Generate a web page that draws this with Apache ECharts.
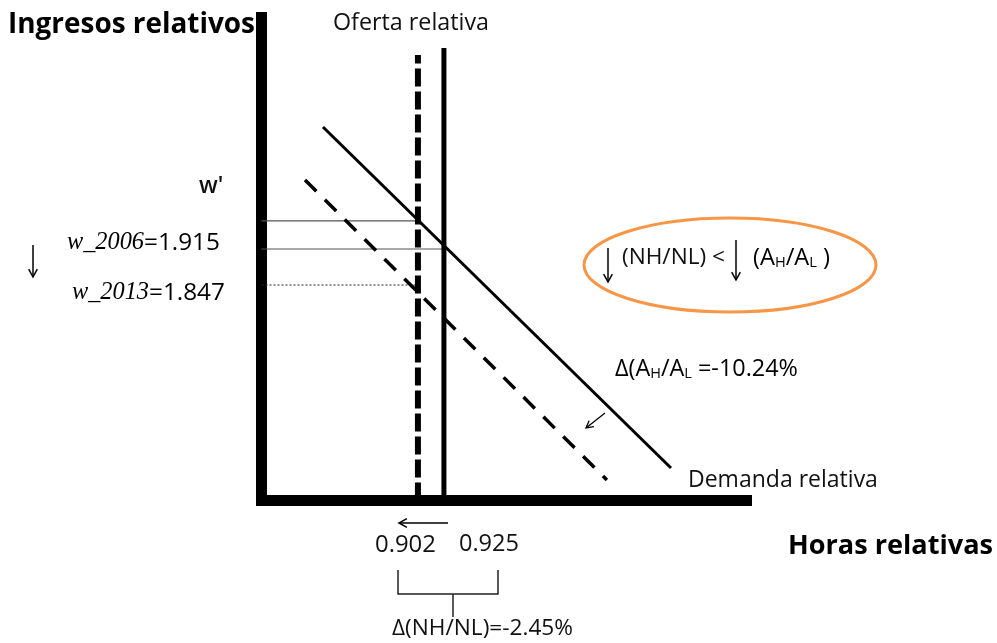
<!DOCTYPE html>
<html>
<head>
<meta charset="utf-8">
<script src="https://cdn.jsdelivr.net/npm/echarts@6/dist/echarts.min.js"></script>
<style>
html,body{margin:0;padding:0;background:#fff;}
#chart{width:997px;height:643px;}
</style>
</head>
<body>
<div id="chart"></div>
<script>
// ---- data ----
const horasRelativas = [0.902, 0.925];          // 2013, 2006 relative hours (supply)
const ingresosRelativos = [1.847, 1.915];       // w_2013, w_2006
const wPrime = [1.968];                         // w' level (unlabelled, estimated)
const ofertaTope = [2.2815, 2.2947];            // top ends of the supply lines (2013, 2006)
const demanda2006 = [[0.818, 2.1455], [1.1259, 1.5013]];
const demanda2013 = [[0.8021, 2.0453], [1.0692, 1.4787]];
const xRange = [0.7636, 1.1927];
const yRange = [1.43995, 2.3523];

const FONT = 'Open Sans';
const chart = echarts.init(document.getElementById('chart'), null, {renderer: 'canvas'});

const mctx = document.createElement('canvas').getContext('2d');
function measure(text, weight, style, family, size) {
  mctx.font = (style || 'normal') + ' ' + (weight || 'normal') + ' ' + size + 'px "' + family + '"';
  return mctx.measureText(text).width;
}
function fitSize(text, weight, family, width) {
  return 100 * width / measure(text, weight, 'normal', family, 100);
}

function line(data, style, z) {
  return {type: 'line', data: data, symbol: 'none', silent: true, animation: false,
          z: z || 2, lineStyle: Object.assign({cap: 'butt'}, style)};
}

function arrow(x1, y1, x2, y2, w, head) {
  const a = Math.atan2(y2 - y1, x2 - x1);
  const h = head || 9, sp = 0.5;
  const p1 = [x2 - h * Math.cos(a - sp), y2 - h * Math.sin(a - sp)];
  const p2 = [x2 - h * Math.cos(a + sp), y2 - h * Math.sin(a + sp)];
  return [
    {type: 'polyline', z: 100, shape: {points: [[x1, y1], [x2, y2]]}, style: {stroke: '#000', lineWidth: w, fill: null}},
    {type: 'polyline', z: 100, shape: {points: [p1, [x2, y2], p2]}, style: {stroke: '#000', lineWidth: w, fill: null}}
  ];
}

// text fitted to the width it occupies in the picture
function fitTxt(text, x, y, width, weight, color) {
  const s = fitSize(text, weight || 'normal', FONT, width);
  return {type: 'text', z: 100, style: {
    text: text, x: x, y: y, font: (weight || 'normal') + ' ' + s.toFixed(2) + 'px "' + FONT + '"',
    fill: color || '#111', textAlign: 'left', textVerticalAlign: 'middle'}};
}

// rich text with subscripts (H, L) fitted to a width
function subTxt(parts, x, y, width) {
  const base = 20, subRatio = 0.62;
  let w = 0;
  parts.forEach(p => { w += measure(p[0], 'normal', 'normal', FONT, p[1] ? base * subRatio : base); });
  const k = width / w;
  const n = base * k, s = base * subRatio * k;
  const rich = {
    n: {fontFamily: FONT, fontSize: n, color: '#111'},
    s: {fontFamily: FONT, fontSize: s, color: '#111', verticalAlign: 'bottom', padding: [n * 0.38, 0, 0, 0]}
  };
  const text = parts.map(p => '{' + (p[1] ? 's' : 'n') + '|' + p[0] + '}').join('');
  return {type: 'text', z: 100, style: {x: x, y: y, textVerticalAlign: 'middle', text: text, rich: rich}};
}

function wageTxt(a, b, x, y, width) {
  const fa = 'Liberation Serif';
  const wa = measure(a, 'normal', 'italic', fa, 20), wb = measure(b, 'normal', 'normal', FONT, 20);
  const k = width / (wa + wb);
  return {type: 'text', z: 100, style: {x: x, y: y, textVerticalAlign: 'middle',
    text: '{a|' + a + '}{b|' + b + '}',
    rich: {a: {fontFamily: fa, fontStyle: 'italic', fontSize: 20 * k, color: '#111'},
           b: {fontFamily: FONT, fontSize: 20 * k, color: '#111'}}}};
}

const graphics = [].concat(
  [
    fitTxt('Ingresos relativos', 8, 25, 247, 'bold', '#000'),
    fitTxt('Oferta relativa', 333, 23, 156),
    {type: 'text', z: 100, style: {text: "w'", x: 199, y: 186, font: '600 23px "' + FONT + '"',
      fill: '#111', textAlign: 'left', textVerticalAlign: 'middle'}},
    wageTxt('w_2006', '=1.915', 67, 243, 153),
    wageTxt('w_2013', '=1.847', 72, 293, 153),
    {type: 'ellipse', z: 100, shape: {cx: 730, cy: 265, rx: 146, ry: 47},
      style: {fill: null, stroke: '#F79646', lineWidth: 3}},
    fitTxt('(NH/NL) <', 622, 258, 103),
    subTxt([['(A', 0], ['H', 1], ['/A', 0], ['L', 1], [' )', 0]], 753, 258, 77),
    subTxt([['Δ(A', 0], ['H', 1], ['/A', 0], ['L', 1], [' =-10.24%', 0]], 615, 369, 183),
    fitTxt('Demanda relativa', 688, 480, 190),
    fitTxt('Horas relativas', 788, 546, 205, 'bold', '#000'),
    fitTxt('0.902', 375, 545, 61),
    fitTxt('0.925', 459, 544, 60),
    fitTxt('Δ(NH/NL)=-2.45%', 392, 629, 181),
    {type: 'polyline', z: 100, shape: {points: [[398, 570], [398, 594], [498, 594], [498, 570]]},
      style: {stroke: '#222', lineWidth: 1.5, fill: null}},
    {type: 'polyline', z: 100, shape: {points: [[453, 594], [453, 617]]},
      style: {stroke: '#222', lineWidth: 1.5, fill: null}}
  ],
  arrow(33, 245, 33, 277, 1.5, 9),
  arrow(608, 248, 608, 282, 1.5, 9),
  arrow(736, 240, 736, 280, 1.5, 9),
  arrow(448, 523, 399, 523, 1.5, 9),
  arrow(605, 413, 586, 428, 1.3, 8)
);

const option = {
  animation: false,
  backgroundColor: '#fff',
  grid: {left: 261.5, right: 250.5, top: 17.5, bottom: 142.5, containLabel: false, outerBoundsMode: 'none'},
  xAxis: {type: 'value', min: xRange[0], max: xRange[1],
    axisLine: {show: true, onZero: false, lineStyle: {color: '#000', width: 11, cap: 'square'}},
    axisTick: {show: false}, axisLabel: {show: false}, splitLine: {show: false}},
  yAxis: {type: 'value', min: yRange[0], max: yRange[1],
    axisLine: {show: true, onZero: false, lineStyle: {color: '#000', width: 11, cap: 'square'}},
    axisTick: {show: false}, axisLabel: {show: false}, splitLine: {show: false}},
  series: [
    // wage levels
    line([[xRange[0], wPrime[0]], [horasRelativas[0], wPrime[0]]], {color: '#555', width: 1.2}, 1),
    line([[xRange[0], ingresosRelativos[1]], [horasRelativas[1], ingresosRelativos[1]]], {color: '#555', width: 1.2}, 1),
    line([[xRange[0], ingresosRelativos[0]], [horasRelativas[0], ingresosRelativos[0]]], {color: '#222', width: 1, type: [2, 2]}, 1),
    // supply (relative hours)
    line([[horasRelativas[1], yRange[0]], [horasRelativas[1], ofertaTope[1]]], {color: '#000', width: 5}, 3),
    line([[horasRelativas[0], yRange[0]], [horasRelativas[0], ofertaTope[0]]], {color: '#000', width: 6, type: [18, 5]}, 3),
    // demand
    line(demanda2006, {color: '#000', width: 3}, 3),
    line(demanda2013, {color: '#000', width: 3.5, type: [16, 12]}, 3)
  ],
  graphic: {elements: graphics}
};
chart.setOption(option);
</script>
</body>
</html>
